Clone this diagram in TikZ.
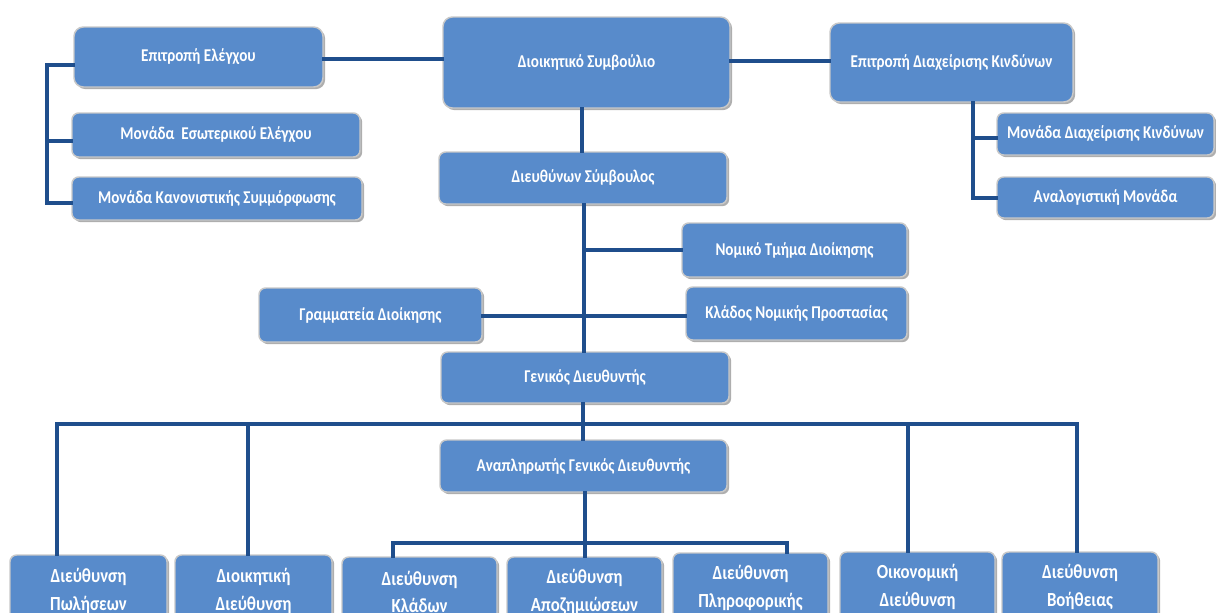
\documentclass[tikz,border=0pt]{standalone}
\usepackage{fontspec}
\setmainfont{Carlito}[FakeStretch=0.84]
\usetikzlibrary{shadows,calc}
\definecolor{boxblue}{HTML}{588BCB}
\definecolor{linkblue}{HTML}{1F4E8C}
\definecolor{rimgray}{HTML}{C8C8C8}
\tikzset{
  obox/.style={draw=rimgray, line width=1.1pt, fill=boxblue, rounded corners=5pt,
    text=white, font=\bfseries\fontsize{13.5}{15}\selectfont, align=center, inner sep=0pt,
    drop shadow={shadow xshift=1.6pt, shadow yshift=-1.6pt, opacity=0.45, fill=black!70}},
  bigbox/.style={rounded corners=7pt},
  lowbox/.style={font=\bfseries\fontsize{15}{20.5}\selectfont},
  conn/.style={draw=linkblue, line width=2.7pt}
}
\newcommand\orgbox[7][]{%
  \node[obox,#1, minimum width={(#5-#3)*0.75pt}, minimum height={(#6-#4)*0.75pt}]
    (#2) at ({(#3+#5)/2},{(#4+#6)/2}) {#7};}
\begin{document}
\begin{tikzpicture}[x=0.75pt,y=-0.75pt]
\useasboundingbox[fill=white] (0,0) rectangle (1216,612);
\clip (0,0) rectangle (1216,612);
\coordinate (lb) at (47,0);
\coordinate (rb) at (973,0);
% nodes
\orgbox[bigbox]{ee}{74}{27}{323}{87}{Επιτροπή Ελέγχου}
\orgbox{mee}{72}{113}{360}{157}{Μονάδα \ Εσωτερικού Ελέγχου}
\orgbox{mkc}{72}{177}{362}{220}{Μονάδα Κανονιστικής Συμμόρφωσης}
\orgbox[bigbox]{ds}{443}{17}{730}{108}{Διοικητικό Συμβούλιο}
\orgbox[bigbox]{edk}{830}{23}{1073}{102}{Επιτροπή Διαχείρισης Κινδύνων}
\orgbox{mdk}{997}{113}{1214}{155}{Μονάδα Διαχείρισης Κινδύνων}
\orgbox{am}{997}{177}{1214}{218}{Αναλογιστική Μονάδα}
\orgbox{dsym}{439}{152}{727}{204}{Διευθύνων Σύμβουλος}
\orgbox{nt}{682}{223}{907}{277}{Νομικό Τμήμα Διοίκησης}
\orgbox{gr}{259}{288}{482}{342}{Γραμματεία Διοίκησης}
\orgbox{knp}{686}{287}{907}{340}{Κλάδος Νομικής Προστασίας}
\orgbox{gd}{441}{352}{729}{403}{Γενικός Διευθυντής}
\orgbox{ag}{440}{440}{727}{492}{Αναπληρωτής Γενικός Διευθυντής}
\orgbox[lowbox]{dp}{10}{555}{167}{627}{Διεύθυνση\\Πωλήσεων}
\orgbox[lowbox]{dd}{175}{555}{332}{627}{Διοικητική\\Διεύθυνση}
\orgbox[lowbox]{kl}{342}{557}{497}{627}{Διεύθυνση\\Κλάδων}
\orgbox[lowbox]{apo}{507}{557}{662}{627}{Διεύθυνση\\Αποζημιώσεων}
\orgbox[lowbox]{pl}{673}{553}{828}{623}{Διεύθυνση\\Πληροφορικής}
\orgbox[lowbox]{od}{840}{552}{995}{622}{Οικονομική\\Διεύθυνση}
\orgbox[lowbox]{db}{1002}{552}{1158}{622}{Διεύθυνση\\Βοήθειας}
% connectors
\begin{scope}[line cap=rect]
\draw[conn] (ee.east |- 0,59) -- (ds.west |- 0,59);
\draw[conn] (ds.east |- 0,61) -- (edk.west |- 0,61);
\draw[conn] (ee.west |- 0,65) -- (lb |- 0,65) -- (lb |- 0,203) -- (mkc.west |- 0,203);
\draw[conn] (lb |- 0,141) -- (mee.west |- 0,141);
\draw[conn] (rb |- edk.south) -- (rb |- 0,198) -- (am.west |- 0,198);
\draw[conn] (rb |- 0,138) -- (mdk.west |- 0,138);
\draw[conn] (582,0 |- ds.south) -- (582,0 |- dsym.north);
\draw[conn] (584,0 |- dsym.south) -- (584,0 |- gd.north);
\draw[conn] (584,250) -- (nt.west |- 0,250);
\draw[conn] (gr.east |- 0,316) -- (knp.west |- 0,316);
\draw[conn] (583,0 |- gd.south) -- (583,0 |- ag.north);
\draw[conn] (57,0 |- dp.north) -- (57,424) -- (1077,424) -- (1077,0 |- db.north);
\draw[conn] (248,424) -- (248,0 |- dd.north);
\draw[conn] (908,424) -- (908,0 |- od.north);
\draw[conn] (585,0 |- ag.south) -- (585,0 |- apo.north);
\draw[conn] (393,0 |- kl.north) -- (393,543) -- (787,543) -- (787,0 |- pl.north);
\end{scope}
\end{tikzpicture}
\end{document}
